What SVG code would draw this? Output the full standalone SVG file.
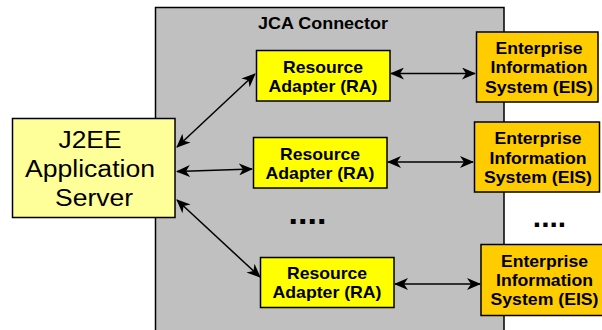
<svg xmlns="http://www.w3.org/2000/svg" width="602" height="330" viewBox="0 0 602 330">
  <style>
    .box { stroke: #000; stroke-width: 1.5; }
    .jca { fill: #c0c0c0; }
    .srv { fill: #ffff99; }
    .ra { fill: #ffff00; }
    .eis { fill: #ffcc00; }
    .b { font-family: "Liberation Sans", Arial, sans-serif; font-weight: bold; font-size: 16.3px; text-anchor: middle; fill: #000; }
    .r { font-family: "Liberation Sans", Arial, sans-serif; font-size: 24.7px; text-anchor: middle; fill: #000; }
    .link { stroke: #000; stroke-width: 1.5; fill: none; marker-start: url(#head); marker-end: url(#head); }
  </style>
  <defs>
    <marker id="head" viewBox="0 0 14 12" refX="13" refY="6" markerWidth="14" markerHeight="12" markerUnits="userSpaceOnUse" orient="auto-start-reverse">
      <path d="M0,0 L14,6 L0,12 L4,6 Z" fill="#000"/>
    </marker>
  </defs>

  <!-- connector container -->
  <g id="jca-connector">
    <rect class="box jca" x="155.5" y="7.5" width="348.5" height="330"/>
    <text class="b" x="323" y="29" textLength="130" lengthAdjust="spacingAndGlyphs">JCA Connector</text>
    <text class="b" x="307.5" y="224" style="font-size:34px">....</text>
  </g>

  <g id="app-server">
    <rect class="box srv" x="12.5" y="118.5" width="162.5" height="99"/>
    <text class="r" x="90" y="148" textLength="63" lengthAdjust="spacingAndGlyphs">J2EE</text>
    <text class="r" x="90" y="177" textLength="130" lengthAdjust="spacingAndGlyphs">Application</text>
    <text class="r" x="94" y="205.5" textLength="78" lengthAdjust="spacingAndGlyphs">Server</text>
  </g>

  <g id="ra-1">
    <rect class="box ra" x="256.5" y="50.5" width="133.5" height="50.5"/>
    <text class="b" x="323" y="72.5" textLength="80" lengthAdjust="spacingAndGlyphs">Resource</text>
    <text class="b" x="323" y="92" textLength="109" lengthAdjust="spacingAndGlyphs">Adapter (RA)</text>
  </g>

  <g id="ra-2">
    <rect class="box ra" x="253.5" y="137.5" width="133.5" height="50.5"/>
    <text class="b" x="320" y="160" textLength="80" lengthAdjust="spacingAndGlyphs">Resource</text>
    <text class="b" x="320" y="179" textLength="109" lengthAdjust="spacingAndGlyphs">Adapter (RA)</text>
  </g>

  <g id="ra-3">
    <rect class="box ra" x="260.5" y="257.5" width="133.5" height="50"/>
    <text class="b" x="327" y="279" textLength="80" lengthAdjust="spacingAndGlyphs">Resource</text>
    <text class="b" x="327" y="298" textLength="109" lengthAdjust="spacingAndGlyphs">Adapter (RA)</text>
  </g>

  <g id="eis-1">
    <rect class="box eis" x="476.5" y="32" width="121.5" height="70"/>
    <text class="b" x="539" y="53.5" textLength="87" lengthAdjust="spacingAndGlyphs">Enterprise</text>
    <text class="b" x="539" y="73" textLength="97" lengthAdjust="spacingAndGlyphs">Information</text>
    <text class="b" x="539" y="92.5" textLength="108" lengthAdjust="spacingAndGlyphs">System (EIS)</text>
  </g>

  <g id="eis-2">
    <rect class="box eis" x="474.5" y="122" width="125" height="70"/>
    <text class="b" x="538" y="143.5" textLength="87" lengthAdjust="spacingAndGlyphs">Enterprise</text>
    <text class="b" x="538" y="163.5" textLength="97" lengthAdjust="spacingAndGlyphs">Information</text>
    <text class="b" x="538" y="183" textLength="108" lengthAdjust="spacingAndGlyphs">System (EIS)</text>
  </g>

  <g id="eis-more">
    <text class="b" x="549.5" y="226.5" style="font-size:30px">....</text>
  </g>

  <g id="eis-3">
    <rect class="box eis" x="481" y="244.5" width="124" height="71"/>
    <text class="b" x="544.5" y="266.5" textLength="87" lengthAdjust="spacingAndGlyphs">Enterprise</text>
    <text class="b" x="544.5" y="285.5" textLength="97" lengthAdjust="spacingAndGlyphs">Information</text>
    <text class="b" x="544.5" y="304.5" textLength="108" lengthAdjust="spacingAndGlyphs">System (EIS)</text>
  </g>

  <g id="connectors">
    <line class="link" x1="177" y1="147" x2="255" y2="74"/>
    <line class="link" x1="177" y1="171.5" x2="252" y2="169"/>
    <line class="link" x1="177" y1="200" x2="260" y2="277"/>
    <line class="link" x1="391" y1="73.5" x2="475" y2="73.5"/>
    <line class="link" x1="388" y1="162" x2="473" y2="162"/>
    <line class="link" x1="395" y1="284" x2="480" y2="284"/>
  </g>
</svg>
